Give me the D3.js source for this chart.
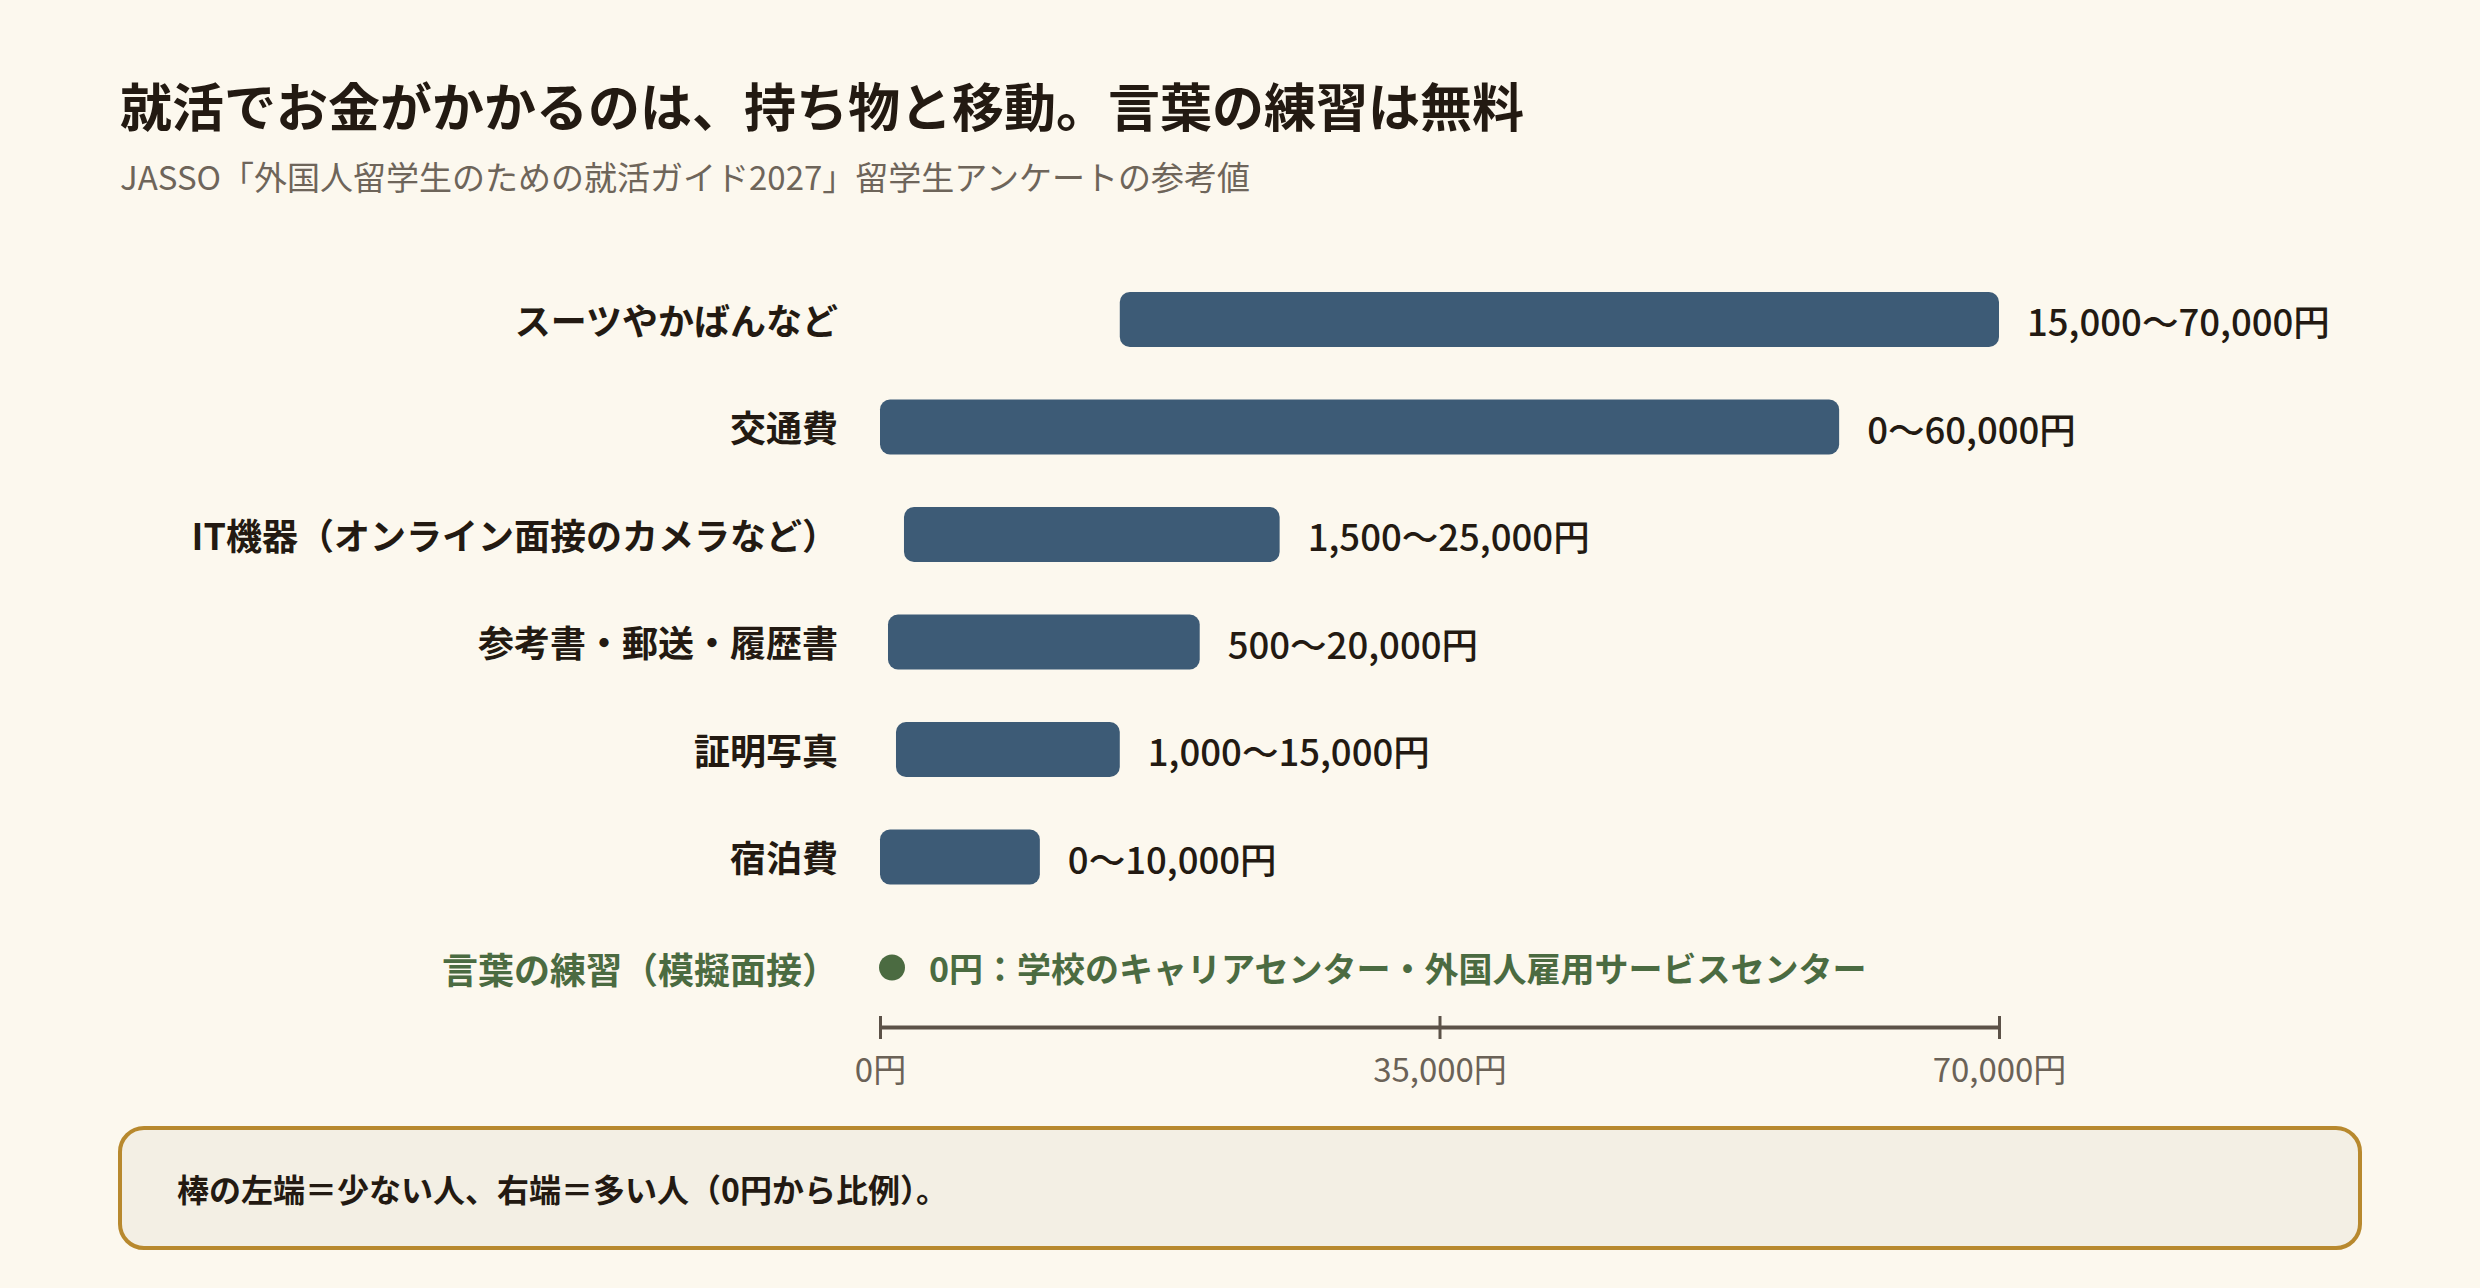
<!DOCTYPE html>
<html lang="ja">
<head>
<meta charset="utf-8">
<script src="https://cdn.jsdelivr.net/npm/d3@7"></script>
<style>
  body { margin: 0; background: #fcf8ee; }
  svg { display: block; font-family: "Noto Sans CJK JP", "Noto Sans", sans-serif; }
</style>
</head>
<body>
<div id="chart"></div>
<script>
const titleText = "就活でお金がかかるのは、持ち物と移動。言葉の練習は無料";
const subtitleText = "JASSO「外国人留学生のための就活ガイド2027」留学生アンケートの参考値";

const categories = [
    "スーツやかばんなど",
    "交通費",
    "IT機器（オンライン面接のカメラなど）",
    "参考書・郵送・履歴書",
    "証明写真",
    "宿泊費"
];
const minValues = [15000, 0, 1500, 500, 1000, 0];
const maxValues = [70000, 60000, 25000, 20000, 15000, 10000];

const freeLabel = "言葉の練習（模擬面接）";
const freeValue = 0;
const freeNote = "0円：学校のキャリアセンター・外国人雇用サービスセンター";

const tickValues = [0, 35000, 70000];
const noteText = "棒の左端＝少ない人、右端＝多い人（0円から比例）。";

const width = 2480;
const height = 1288;
const fmt = d3.format(",");

const svg = d3.select("#chart").append("svg")
    .attr("width", width)
    .attr("height", height);

svg.append("rect")
    .attr("width", width)
    .attr("height", height)
    .attr("fill", "#fcf8ee");

// title + subtitle
svg.append("text")
    .attr("x", 120)
    .attr("y", 104)
    .attr("dominant-baseline", "central")
    .attr("font-size", 52)
    .attr("font-weight", 700)
    .attr("fill", "#231a12")
    .text(titleText);

svg.append("text")
    .attr("x", 120)
    .attr("y", 176)
    .attr("dominant-baseline", "central")
    .attr("font-size", 33)
    .attr("fill", "#6e655a")
    .text(subtitleText);

const x = d3.scaleLinear().domain([0, 70000]).range([880, 1999]);

const rows = categories.map((c, i) => ({ name: c, lo: minValues[i], hi: maxValues[i] }));
const y = d3.scaleBand()
    .domain(d3.range(rows.length + 1))
    .range([265.75, 1018.25])
    .paddingInner(0.49)
    .paddingOuter(0.245);

const barH = 55;
const rowCenter = i => y(i) + y.bandwidth() / 2;

const g = svg.append("g");

// category labels
g.selectAll("text.cat")
    .data(rows)
    .enter().append("text")
    .attr("class", "cat")
    .attr("x", 838)
    .attr("y", (d, i) => rowCenter(i) - 1)
    .attr("text-anchor", "end")
    .attr("dominant-baseline", "central")
    .attr("font-size", 36)
    .attr("font-weight", 700)
    .attr("fill", "#231a12")
    .text(d => d.name);

// range bars
g.selectAll("rect.bar")
    .data(rows)
    .enter().append("rect")
    .attr("class", "bar")
    .attr("x", d => x(d.lo))
    .attr("y", (d, i) => rowCenter(i) - barH / 2)
    .attr("width", d => x(d.hi) - x(d.lo))
    .attr("height", barH)
    .attr("rx", 10)
    .attr("fill", "#3d5b76");

// value labels
g.selectAll("text.val")
    .data(rows)
    .enter().append("text")
    .attr("class", "val")
    .attr("x", d => x(d.hi) + 28)
    .attr("y", (d, i) => rowCenter(i) + 1)
    .attr("dominant-baseline", "central")
    .attr("font-size", 36.5)
    .attr("font-weight", 500)
    .attr("fill", "#231a12")
    .text(d => `${fmt(d.lo)}〜${fmt(d.hi)}円`);

// free row
const freeY = rowCenter(rows.length) + 3;
g.append("text")
    .attr("x", 838)
    .attr("y", freeY)
    .attr("text-anchor", "end")
    .attr("dominant-baseline", "central")
    .attr("font-size", 36)
    .attr("font-weight", 700)
    .attr("fill", "#4b6b41")
    .text(freeLabel);

g.append("circle")
    .attr("cx", x(freeValue) + 12)
    .attr("cy", freeY)
    .attr("r", 13)
    .attr("fill", "#4b6b41");

g.append("text")
    .attr("x", x(freeValue) + 49)
    .attr("y", freeY)
    .attr("dominant-baseline", "central")
    .attr("font-size", 34)
    .attr("font-weight", 700)
    .attr("fill", "#4b6b41")
    .text(freeNote);

// axis
const axis = svg.append("g")
    .attr("transform", "translate(0,1027)")
    .call(d3.axisBottom(x)
        .tickValues(tickValues)
        .tickSizeOuter(0)
        .tickFormat(d => fmt(d) + "円"));

axis.select(".domain")
    .attr("stroke", "#5c5248")
    .attr("stroke-width", 4);

axis.selectAll(".tick line")
    .attr("y1", -11)
    .attr("y2", 12)
    .attr("stroke", "#5c5248")
    .attr("stroke-width", 3);

axis.selectAll(".tick text")
    .attr("y", 41)
    .attr("dy", null)
    .attr("dominant-baseline", "central")
    .attr("font-family", "\"Noto Sans CJK JP\", sans-serif")
    .attr("font-size", 33)
    .attr("fill", "#6b6257");

// footnote box
svg.append("rect")
    .attr("x", 120)
    .attr("y", 1128)
    .attr("width", 2240)
    .attr("height", 120)
    .attr("rx", 24)
    .attr("fill", "#f3efe4")
    .attr("stroke", "#b8892e")
    .attr("stroke-width", 4);

svg.append("text")
    .attr("x", 177)
    .attr("y", 1188)
    .attr("dominant-baseline", "central")
    .attr("font-size", 32)
    .attr("font-weight", 700)
    .attr("fill", "#231a12")
    .text(noteText);
</script>
</body>
</html>
